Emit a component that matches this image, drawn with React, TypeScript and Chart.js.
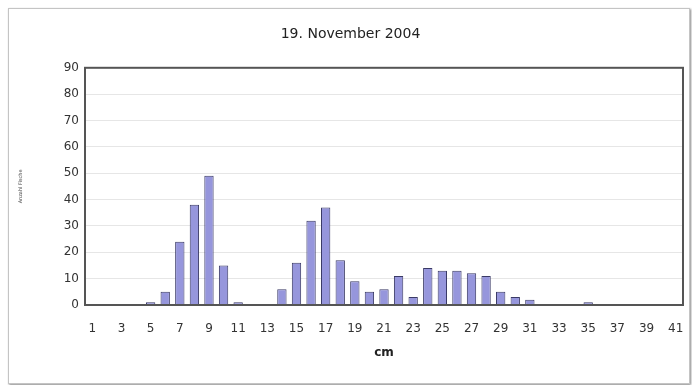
import React, { useEffect, useRef } from "react";
import { Chart, registerables } from "chart.js";

Chart.register(...registerables);

const categories: string[] = Array.from({ length: 41 }, (_, i) => String(i + 1));
const counts: number[] = [
  0, 0, 0, 0, 1, 5, 24, 38, 49, 15,
  1, 0, 0, 6, 16, 32, 37, 17, 9, 5,
  6, 11, 3, 14, 13, 13, 12, 11, 5, 3,
  2, 0, 0, 0, 1, 0, 0, 0, 0, 0,
  0,
];
const yTicks: number[] = [0, 10, 20, 30, 40, 50, 60, 70, 80, 90];
const titleText = "19. November 2004";
const xTitle = "cm";
const yTitle = "Anzahl Fische";

const framePlugin = {
  id: "frame",
  afterDatasetsDraw(chart: any) {
    const { ctx, chartArea } = chart;
    ctx.save();
    ctx.strokeStyle = "#555555";
    ctx.lineWidth = 2;
    ctx.strokeRect(chartArea.left, chartArea.top, chartArea.right - chartArea.left, chartArea.bottom - chartArea.top);
    ctx.restore();
  },
};

export default function App() {
  const ref = useRef<HTMLCanvasElement | null>(null);
  useEffect(() => {
    if (!ref.current) return;
    const chart = new Chart(ref.current, {
      type: "bar",
      data: {
        labels: categories,
        datasets: [
          {
            data: counts,
            backgroundColor: "#9696dc",
            borderColor: "#3a3a66",
            borderWidth: 1,
            barPercentage: 0.64,
            categoryPercentage: 1,
          },
        ],
      },
      options: {
        animation: false,
        responsive: false,
        maintainAspectRatio: false,
        layout: { padding: { left: 18, right: 9, top: 0, bottom: 25 } },
        plugins: {
          legend: { display: false },
          tooltip: { enabled: false },
          title: {
            display: true,
            text: titleText,
            color: "#222222",
            font: { family: "DejaVu Sans", size: 14, weight: "normal" },
            padding: { top: 26, bottom: 25 },
          },
        },
        scales: {
          x: {
            afterFit: (s: any) => {
              s.height = 55;
              s.paddingLeft = 0;
              s.paddingRight = 0;
            },
            grid: { display: false, drawTicks: false },
            border: { display: false },
            ticks: {
              autoSkip: false,
              maxRotation: 0,
              padding: 17,
              color: "#333333",
              font: { family: "DejaVu Sans", size: 12 },
              callback: (_v: any, i: number) => (i % 2 === 0 ? categories[i] : ""),
            },
            title: {
              display: true,
              text: xTitle,
              color: "#222222",
              font: { family: "DejaVu Sans", size: 12, weight: "bold" },
              padding: { top: 9, bottom: 0 },
            },
          },
          y: {
            min: 0,
            max: 90,
            afterBuildTicks: (s: any) => {
              s.ticks = yTicks.map((v) => ({ value: v }));
            },
            afterFit: (s: any) => {
              s.width = 67;
            },
            grid: { color: "#e6e6e6", lineWidth: 1, drawTicks: false },
            border: { display: false },
            ticks: {
              padding: 6,
              color: "#333333",
              font: { family: "DejaVu Sans", size: 12 },
            },
            title: {
              display: true,
              text: yTitle,
              color: "#444444",
              font: { family: "DejaVu Sans", size: 5 },
              padding: 0,
            },
          },
        },
      },
      plugins: [framePlugin],
    });
    return () => chart.destroy();
  }, []);

  return (
    <div style={{ position: "fixed", left: 0, top: 0, width: 692, height: 385, background: "#ffffff" }}>
      <div
        style={{
          position: "absolute",
          left: 8,
          top: 8,
          width: 680,
          height: 374,
          border: "1px solid #c4c4c4",
          boxShadow: "1px 1px 2px #888888",
        }}
      />
      <canvas ref={ref} width={692} height={385} style={{ position: "absolute", left: 0, top: 0 }} />
    </div>
  );
}
